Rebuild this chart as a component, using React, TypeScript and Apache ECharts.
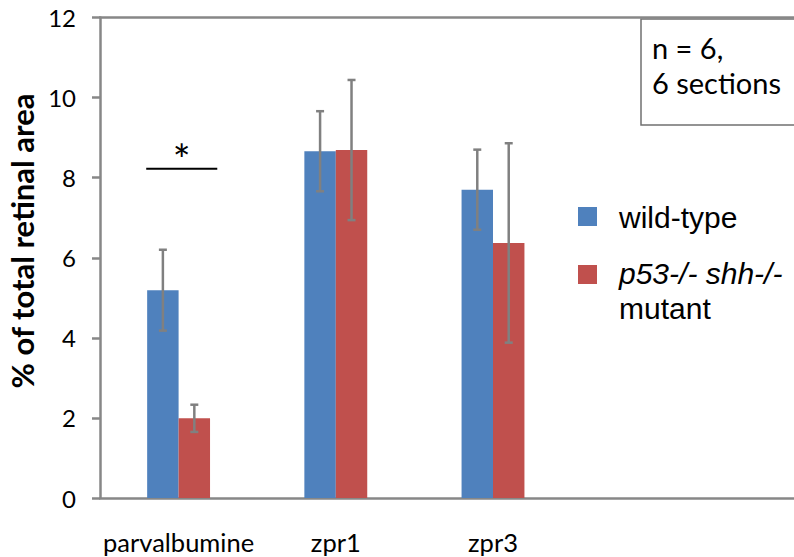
import React, { useEffect, useRef } from "react";
import * as echarts from "echarts";

const categories = ["parvalbumine", "zpr1", "zpr3"];
// two empty slots: the plot area runs on past the right edge of the picture
const axisSlots = [...categories, "", ""];
const seriesNames = ["wild-type", "p53-/- shh-/- mutant"];
const wildType = [5.19, 8.66, 7.7];
const wildTypeErr = [1.01, 1.0, 1.0];
const mutant = [1.99, 8.69, 6.37];
const mutantErr = [0.34, 1.75, 2.49];
const yTicks = { min: 0, max: 12, interval: 2 };
const significance = [[0, 8.22]]; // [category index, bar level]
const noteLines = ["n = 6,", "6 sections"];

const BLUE = "#4F81BD";
const RED = "#C0504D";
const AXIS = "#878787";
const ERR = "#808080";

function errorSeries(name: string, values: number[], errs: number[], shift: number) {
  return {
    type: "custom",
    name,
    silent: true,
    z: 10,
    data: values.map((v, i) => [i, v - errs[i], v + errs[i]]),
    encode: { x: 0, y: [1, 2] },
    renderItem: (params: any, api: any) => {
      const idx = api.value(0);
      const lo = api.coord([idx, api.value(1)]);
      const hi = api.coord([idx, api.value(2)]);
      const band = api.size([1, 0])[0];
      const cx = lo[0] + shift * band;
      const cap = 4;
      const st = { stroke: ERR, lineWidth: 2.5 };
      return {
        type: "group",
        children: [
          { type: "line", shape: { x1: cx, y1: lo[1], x2: cx, y2: hi[1] }, style: st },
          { type: "line", shape: { x1: cx - cap, y1: lo[1], x2: cx + cap, y2: lo[1] }, style: st },
          { type: "line", shape: { x1: cx - cap, y1: hi[1], x2: cx + cap, y2: hi[1] }, style: st },
        ],
      };
    },
  };
}

export default function App() {
  const ref = useRef<HTMLDivElement>(null);
  useEffect(() => {
    if (!ref.current) return;
    const chart = echarts.init(ref.current, undefined, { renderer: "svg" });
    const labelFont = "Lato, 'Open Sans', sans-serif";
    const legendFont = "'Liberation Sans', Arial, sans-serif";
    chart.setOption({
      animation: false,
      backgroundColor: "#ffffff",
      grid: { left: 100, top: 17.5, height: 480.5, width: 786, containLabel: false },
      legend: { show: false },
      xAxis: [
        {
          type: "category",
          data: axisSlots,
          position: "bottom",
          axisLine: { show: true, lineStyle: { color: AXIS, width: 2.5 } },
          axisTick: { show: false },
          axisLabel: { interval: 0, color: "#000", fontFamily: labelFont, fontSize: 25.5, margin: 31 },
        },
        {
          type: "category",
          data: axisSlots,
          position: "top",
          axisLine: { show: true, lineStyle: { color: AXIS, width: 2.5 } },
          axisTick: { show: false },
          axisLabel: { show: false },
        },
      ],
      yAxis: {
        type: "value",
        min: yTicks.min,
        max: yTicks.max,
        interval: yTicks.interval,
        axisLine: { show: true, lineStyle: { color: AXIS, width: 2.5 } },
        axisTick: { show: true, length: 8, lineStyle: { color: AXIS, width: 2.5 } },
        splitLine: { show: false },
        axisLabel: { color: "#000", fontFamily: labelFont, fontSize: 24, margin: 24 },
      },
      series: [
        {
          type: "bar",
          name: seriesNames[0],
          data: wildType,
          barWidth: "20%",
          barGap: "0%",
          itemStyle: { color: BLUE },
        },
        {
          type: "bar",
          name: seriesNames[1],
          data: mutant,
          barWidth: "20%",
          barGap: "0%",
          itemStyle: { color: RED },
        },
        errorSeries("wt-err", wildType, wildTypeErr, -0.1),
        errorSeries("mut-err", mutant, mutantErr, 0.1),
        {
          type: "custom",
          name: "significance",
          silent: true,
          z: 11,
          data: significance,
          encode: { x: 0, y: 1 },
          renderItem: (params: any, api: any) => {
            const c = api.coord([api.value(0), api.value(1)]);
            const band = api.size([1, 0])[0];
            const mid = c[0] + 0.02 * band;
            const half = 0.226 * band;
            return {
              type: "group",
              children: [
                {
                  type: "line",
                  shape: { x1: mid - half, y1: c[1], x2: mid + half, y2: c[1] },
                  style: { stroke: "#000", lineWidth: 2 },
                },
                {
                  type: "text",
                  x: mid,
                  y: c[1] - 10,
                  style: {
                    text: "*",
                    fill: "#000",
                    fontFamily: labelFont,
                    fontSize: 42,
                    align: "center",
                    verticalAlign: "middle",
                  },
                },
              ],
            };
          },
        },
      ],
      graphic: [
        {
          type: "text",
          x: 22,
          y: 241,
          rotation: Math.PI / 2,
          style: {
            text: "% of total retinal area",
            fill: "#000",
            fontFamily: labelFont,
            fontWeight: "bold",
            fontSize: 31,
            align: "center",
            verticalAlign: "middle",
          },
        },
        {
          type: "rect",
          shape: { x: 641, y: 19, width: 200, height: 106 },
          style: { fill: "#fff", stroke: "#707070", lineWidth: 1.5 },
        },
        {
          type: "text",
          x: 652,
          y: 47,
          style: { text: noteLines[0], fill: "#000", fontFamily: labelFont, fontSize: 29, verticalAlign: "middle" },
        },
        {
          type: "text",
          x: 652,
          y: 82,
          style: { text: noteLines[1], fill: "#000", fontFamily: labelFont, fontSize: 29, verticalAlign: "middle" },
        },
        { type: "rect", shape: { x: 578, y: 207, width: 19, height: 19 }, style: { fill: BLUE } },
        {
          type: "text",
          x: 619,
          y: 217,
          style: { text: seriesNames[0], fill: "#000", fontFamily: legendFont, fontSize: 30, verticalAlign: "middle" },
        },
        { type: "rect", shape: { x: 578, y: 265, width: 19, height: 19 }, style: { fill: RED } },
        {
          type: "text",
          x: 619,
          y: 273,
          style: { text: "p53-/- shh-/-", fill: "#000", fontFamily: legendFont, fontStyle: "italic", fontSize: 30, verticalAlign: "middle" },
        },
        {
          type: "text",
          x: 619,
          y: 308,
          style: { text: "mutant", fill: "#000", fontFamily: legendFont, fontSize: 30, verticalAlign: "middle" },
        },
      ],
    });
    return () => chart.dispose();
  }, []);
  return (
    <div style={{ position: "fixed", left: 0, top: 0, width: 794, height: 557, overflow: "hidden", background: "#fff" }}>
      <div ref={ref} style={{ width: 890, height: 557 }} />
    </div>
  );
}
